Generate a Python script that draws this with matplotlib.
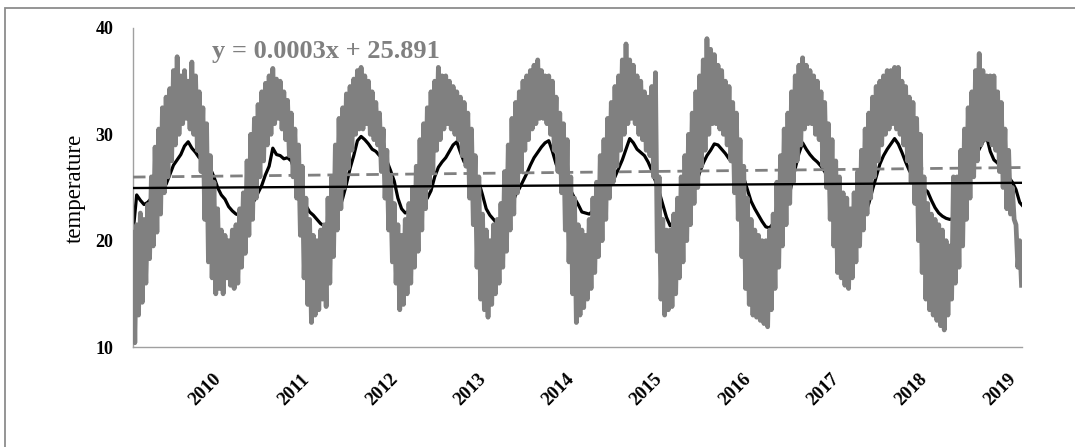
import matplotlib
matplotlib.use("Agg")
import matplotlib.pyplot as plt
from matplotlib.patches import Rectangle
from matplotlib.transforms import ScaledTranslation
import numpy as np

# ---------------- data ----------------
start_year = 2009.0
gray_steps_per_year = 48   # ~weekly sampling of the noisy grey series
black_steps_per_year = 24  # half-month sampling of the smooth black series

gray_series = [
    # 2009
    20.8, 10.4, 21.5, 13.0, 22.6, 14.2, 22.0, 16.0, 23.4, 18.3, 26.0, 19.5,
    28.8, 20.8, 30.5, 22.5, 32.5, 24.5, 33.5, 26.0, 34.3, 27.5, 36.0, 29.0,
    37.3, 30.0, 35.5, 31.0, 36.0, 31.5, 35.0, 30.5, 36.8, 30.0, 35.5, 28.5,
    34.0, 26.5, 32.5, 22.0, 31.0, 18.0, 28.0, 16.5, 25.5, 15.0, 23.0, 15.5,
    # 2010
    21.0, 15.0, 20.5, 16.5, 20.0, 15.8, 21.0, 15.5, 21.5, 16.0, 23.0, 17.5,
    24.5, 18.8, 27.5, 20.5, 30.0, 22.0, 31.5, 24.0, 32.8, 26.0, 34.0, 27.5,
    34.8, 29.0, 35.5, 30.0, 36.2, 31.0, 35.2, 31.5, 35.0, 30.5, 34.0, 29.5,
    33.2, 28.0, 32.0, 26.0, 30.5, 24.0, 29.0, 20.5, 27.0, 16.5, 24.0, 14.0,
    # 2011
    22.0, 12.3, 20.5, 13.0, 20.0, 13.5, 21.0, 14.5, 21.5, 13.8, 24.0, 16.0,
    26.0, 18.5, 29.0, 21.0, 31.5, 23.0, 32.5, 25.0, 33.8, 26.8, 34.5, 28.5,
    35.2, 30.0, 36.0, 30.5, 36.3, 30.5, 35.5, 31.0, 35.0, 30.0, 34.0, 29.5,
    33.0, 29.0, 32.0, 26.5, 30.5, 24.0, 28.5, 21.0, 26.0, 18.0, 23.5, 16.0,
    # 2012
    21.5, 13.5, 20.5, 14.0, 22.0, 15.0, 23.5, 16.0, 25.0, 17.5, 27.0, 19.0,
    29.5, 21.0, 31.0, 23.0, 32.5, 25.0, 34.0, 26.5, 35.0, 28.5, 36.3, 29.5,
    35.5, 30.5, 35.5, 31.0, 35.0, 30.5, 34.5, 30.0, 34.0, 29.5, 33.5, 28.0,
    33.0, 27.0, 32.0, 24.0, 30.5, 21.5, 28.0, 17.5, 26.0, 14.5, 22.5, 13.5,
    # 2013
    21.0, 12.8, 20.0, 14.0, 21.5, 15.0, 22.0, 16.0, 23.5, 17.5, 26.5, 19.0,
    29.0, 21.0, 31.5, 22.5, 33.0, 24.5, 34.0, 26.5, 35.0, 28.5, 35.5, 29.5,
    36.0, 30.5, 36.5, 31.0, 37.0, 31.5, 36.0, 31.5, 35.5, 31.0, 35.5, 30.0,
    35.0, 28.5, 33.5, 26.5, 32.0, 24.5, 31.0, 21.0, 29.5, 18.0, 26.0, 15.0,
    # 2014
    24.0, 12.3, 21.5, 13.0, 21.0, 13.7, 20.5, 14.5, 22.0, 15.5, 24.0, 17.0,
    25.5, 18.5, 28.0, 20.0, 29.5, 22.0, 31.5, 24.0, 33.0, 25.5, 34.5, 27.0,
    35.5, 28.5, 37.0, 30.0, 38.5, 31.0, 37.0, 31.5, 36.5, 31.0, 35.5, 30.0,
    35.0, 29.5, 34.0, 28.5, 33.5, 28.0, 34.5, 26.0, 35.8, 19.0, 26.0, 14.5,
    # 2015
    22.0, 13.0, 21.0, 13.5, 21.0, 13.8, 22.5, 15.0, 24.0, 16.5, 26.0, 18.0,
    28.0, 20.0, 30.0, 21.5, 32.0, 23.5, 34.0, 25.0, 35.5, 27.0, 37.0, 28.5,
    39.0, 30.0, 38.0, 31.0, 37.5, 31.0, 36.5, 30.5, 36.0, 30.0, 35.0, 29.0,
    34.5, 27.5, 33.0, 24.5, 32.0, 22.0, 29.5, 18.5, 27.0, 15.5, 24.0, 14.0,
    # 2016
    22.0, 13.0, 21.0, 12.8, 20.5, 12.5, 20.0, 12.2, 20.0, 11.9, 21.0, 13.5,
    22.5, 15.5, 25.5, 17.5, 28.0, 19.5, 30.5, 21.5, 32.0, 23.5, 34.0, 25.5,
    35.5, 27.5, 36.5, 29.0, 37.2, 30.5, 36.5, 31.0, 36.0, 31.0, 35.5, 30.0,
    35.0, 29.5, 34.0, 27.0, 33.0, 25.0, 31.0, 22.0, 29.5, 19.5, 27.5, 17.0,
    # 2017
    26.0, 16.5, 24.5, 15.8, 24.0, 15.5, 23.0, 16.5, 24.5, 18.0, 26.5, 19.5,
    28.5, 21.0, 30.5, 22.5, 32.0, 24.0, 33.5, 26.0, 34.5, 27.5, 35.0, 29.0,
    35.5, 30.0, 36.0, 30.5, 36.0, 31.0, 36.3, 30.5, 36.3, 30.0, 35.0, 29.0,
    34.5, 27.5, 33.5, 25.5, 33.0, 23.5, 31.5, 20.0, 30.0, 17.0, 26.0, 14.5,
    # 2018
    23.5, 13.5, 22.5, 13.0, 22.0, 12.5, 21.5, 12.0, 21.0, 11.6, 20.0, 13.0,
    19.5, 14.5, 26.0, 16.0, 26.0, 17.5, 28.5, 19.5, 30.5, 22.0, 32.5, 24.0,
    34.0, 26.0, 36.0, 27.5, 37.6, 29.0, 36.0, 29.5, 35.5, 29.5, 35.5, 29.0,
    35.5, 28.5, 34.0, 26.5, 33.0, 25.0, 30.5, 23.0, 28.5, 22.5, 25.0, 22.0,
    # start of 2019
    21.5, 17.5, 20.0, 15.8,
]

black_series = [
    # 2009
    20.7, 24.3, 23.8, 23.4, 23.6, 24.0, 24.2, 24.6, 24.9, 25.3, 26.2, 27.1,
    27.6, 28.1, 28.9, 29.3, 28.7, 28.3, 27.8, 27.7, 27.3, 26.8, 26.0, 25.0,
    # 2010
    24.3, 23.9, 23.2, 22.8, 22.5, 22.4, 22.6, 23.0, 23.3, 23.8, 24.5, 25.2,
    26.2, 27.0, 28.7, 28.1, 28.0, 27.7, 27.8, 27.5, 26.5, 25.4, 24.2, 23.3,
    # 2011
    22.7, 22.4, 22.0, 21.6, 21.4, 21.6, 22.0, 22.4, 22.9, 24.0, 25.3, 26.8,
    28.0, 29.4, 29.8, 29.5, 29.1, 28.6, 28.4, 28.0, 27.8, 27.5, 26.6, 25.6,
    # 2012
    24.0, 23.0, 22.6, 22.8, 23.0, 23.2, 23.4, 23.6, 24.0, 24.7, 26.0, 26.9,
    27.4, 27.8, 28.4, 29.0, 29.3, 28.3, 27.4, 27.2, 26.8, 26.2, 25.5, 24.3,
    # 2013
    23.0, 22.4, 22.0, 21.6, 21.8, 22.3, 22.6, 23.4, 24.3, 24.9, 25.6, 26.3,
    27.1, 27.8, 28.3, 28.8, 29.2, 29.4, 28.4, 27.2, 26.4, 25.6, 25.1, 24.7,
    # 2014
    24.0, 23.4, 22.7, 22.6, 22.5, 22.8, 23.1, 23.5, 24.0, 24.6, 25.3, 26.0,
    26.8, 27.6, 28.6, 29.6, 29.2, 28.6, 28.3, 28.0, 27.4, 26.6, 25.6, 24.6,
    # 2015
    23.4, 22.2, 21.4, 21.8, 22.8, 23.8, 24.2, 24.6, 24.9, 25.3, 26.4, 27.3,
    28.0, 28.5, 29.1, 29.0, 28.6, 28.2, 27.7, 27.4, 27.1, 26.6, 25.9, 24.8,
    # 2016
    23.7, 23.0, 22.4, 21.8, 21.3, 21.2, 21.6, 22.1, 22.6, 23.1, 23.7, 25.3,
    26.8, 28.2, 29.2, 28.6, 28.1, 27.7, 27.4, 27.0, 26.5, 25.8, 25.0, 24.3,
    # 2017
    23.8, 23.1, 22.6, 22.2, 21.6, 21.4, 21.8, 22.5, 23.5, 24.8, 26.0, 27.2,
    28.0, 28.6, 29.1, 29.6, 29.1, 28.3, 27.4, 26.6, 26.0, 25.7, 25.4, 24.9,
    # 2018 + start of 2019
    24.6, 23.8, 23.1, 22.6, 22.3, 22.1, 22.0, 22.1, 22.6, 23.3, 24.4, 25.4,
    26.6, 27.9, 28.6, 29.3, 29.8, 28.4, 27.6, 27.3, 26.8, 26.4, 26.0, 25.5,
    24.8, 23.6, 23.2,
]

gray_trend_ends = [25.98, 26.88]    # dashed grey linear trend (start, end)
black_trend_ends = [24.95, 25.44]   # solid black linear trend (start, end)

year_ticks = [2010, 2011, 2012, 2013, 2014, 2015, 2016, 2017, 2018, 2019]
year_labels = ["2010", "2011", "2012", "2013", "2014", "2015", "2016", "2017", "2018", "2019"]
y_ticks = [10, 20, 30, 40]
equation_text = "y = 0.0003x + 25.891"
y_title = "temperature"

# ---------------- drawing ----------------
W, H = 1075, 447
fig = plt.figure(figsize=(W / 100, H / 100), dpi=100)
fig.patch.set_facecolor("white")

# outer chart-area border (cut off at right/bottom as in the reference)
fig.patches.append(Rectangle((5 / W, -0.05), 1.2, 1 - 8 / H + 0.05,
                             transform=fig.transFigure, fill=False,
                             edgecolor="#8c8c8c", linewidth=1.3))

ax_left, ax_right, ax_top, ax_bot = 133, 1022, 28, 347
ax = fig.add_axes([ax_left / W, 1 - ax_bot / H, (ax_right - ax_left) / W, (ax_bot - ax_top) / H])

t_gray = start_year + np.arange(len(gray_series)) / gray_steps_per_year
t_black = start_year + np.arange(len(black_series)) / black_steps_per_year
x_end = start_year + (ax_right - ax_left) / 88.3

ax.plot(t_black, black_series, color="black", linewidth=2.3, zorder=2)
ax.plot(t_gray, gray_series, color="#808080", linewidth=3.4, zorder=3)
ax.plot([start_year, x_end], gray_trend_ends, color="#808080", linewidth=2.0,
        linestyle=(0, (4.5, 2.5)), zorder=4)
ax.plot([start_year, x_end], black_trend_ends, color="black", linewidth=1.7, zorder=5)

ax.set_xlim(start_year, x_end)
ax.set_ylim(10, 40)

for s in ["top", "right"]:
    ax.spines[s].set_visible(False)
for s in ["left", "bottom"]:
    ax.spines[s].set_color("#a0a0a0")
    ax.spines[s].set_linewidth(1.0)

serif = ["Liberation Serif", "DejaVu Serif"]
ax.set_yticks(y_ticks)
ax.set_yticklabels([str(v) for v in y_ticks], fontfamily=serif, fontweight="bold", fontsize=13)
ax.set_xticks(year_ticks)
ax.set_xticklabels(year_labels, fontfamily=serif, fontweight="bold", fontsize=13.5,
                   rotation=45, ha="right", va="top", rotation_mode="anchor")
ax.tick_params(axis="y", length=0, pad=14)
ax.tick_params(axis="x", length=0, pad=12)
shift = ScaledTranslation(-9 / 100, -7 / 100, fig.dpi_scale_trans)
for lbl in ax.get_xticklabels():
    lbl.set_transform(lbl.get_transform() + shift)

fig.text(75 / W, 1 - 188 / H, y_title, rotation=90, ha="center", va="center",
         fontfamily=serif, fontsize=16.5)
fig.text(212 / W, 1 - 58 / H, equation_text, ha="left", va="baseline",
         fontfamily=serif, fontweight="bold", fontsize=19, color="#808080")

fig.savefig("out.png", dpi=100, facecolor="white")
